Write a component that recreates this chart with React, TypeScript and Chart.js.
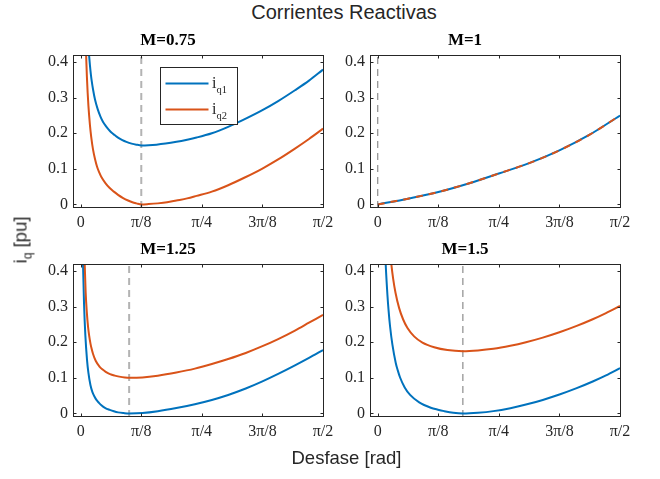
import React, { useEffect, useRef } from 'react';
import { Chart, registerables } from 'chart.js';

Chart.register(...registerables);

const PI = Math.PI;
const SERIF = '"Liberation Serif", "Times New Roman", serif';
const SANS = '"Liberation Sans", Arial, sans-serif';
const BLUE = '#0072BD';
const ORANGE = '#D95319';
const AXIS = '#262626';

// ---- axes ----
const xTicks = [0, PI / 8, PI / 4, (3 * PI) / 8, PI / 2];
const xTickLabels = ['0', 'π/8', 'π/4', '3π/8', 'π/2'];
const yTicks = [0, 0.1, 0.2, 0.3, 0.4];
const yTickLabels = ['0', '0.1', '0.2', '0.3', '0.4'];
const xMin = -0.05;
const xMax = PI / 2;
const yMin = -0.01;
const yMax = 0.42;

const subplotTitles = ['M=0.75', 'M=1', 'M=1.25', 'M=1.5'];
const optimumPhase = [PI / 8, 0, 0.314, 0.552];

// ---- M = 0.75 ----
const phaseM075a = [0.045, 0.05, 0.054, 0.06, 0.066, 0.071, 0.08, 0.093, 0.11, 0.128, 0.145, 0.162, 0.18, 0.199, 0.22, 0.242, 0.27, 0.296, 0.33, 0.361, 0.394, 0.44, 0.491, 0.55, 0.621, 0.69, 0.751, 0.85, 0.956, 1.06, 1.178, 1.28, 1.389, 1.48, 1.571];
const iq1M075 = [0.48, 0.444, 0.42, 0.39, 0.365, 0.348, 0.323, 0.294, 0.268, 0.247, 0.232, 0.221, 0.211, 0.202, 0.195, 0.188, 0.181, 0.176, 0.171, 0.168, 0.166, 0.1665, 0.168, 0.171, 0.176, 0.182, 0.188, 0.2, 0.218, 0.239, 0.265, 0.2905, 0.321, 0.348, 0.379];
const phaseM075b = [0.03, 0.035, 0.04, 0.045, 0.05, 0.054, 0.06, 0.068, 0.08, 0.093, 0.106, 0.12, 0.134, 0.16, 0.188, 0.215, 0.242, 0.275, 0.307, 0.335, 0.361, 0.394, 0.44, 0.5, 0.56, 0.62, 0.69, 0.751, 0.85, 0.956, 1.06, 1.178, 1.28, 1.389, 1.48, 1.571];
const iq2M075 = [0.49, 0.42, 0.36, 0.314, 0.277, 0.253, 0.222, 0.19, 0.154, 0.127, 0.106, 0.09, 0.077, 0.06, 0.046, 0.036, 0.027, 0.018, 0.011, 0.006, 0.003, 0.0, 0.001, 0.003, 0.006, 0.011, 0.017, 0.024, 0.036, 0.054, 0.075, 0.101, 0.1265, 0.157, 0.184, 0.213];

// ---- M = 1 ----
const phaseM1 = [0, 0.196, 0.393, 0.589, 0.785, 0.982, 1.178, 1.374, 1.571];
const iq1M1 = [0, 0.016, 0.035, 0.059, 0.087, 0.116, 0.152, 0.196, 0.25];
const iq2M1 = [0, 0.016, 0.035, 0.059, 0.087, 0.116, 0.152, 0.196, 0.25];

// ---- M = 1.25 ----
const phaseM125a = [0.012, 0.015, 0.0214, 0.03, 0.041, 0.05, 0.063, 0.076, 0.09, 0.102, 0.118, 0.134, 0.16, 0.188, 0.215, 0.242, 0.28, 0.314, 0.4, 0.5, 0.62, 0.74, 0.85, 0.956, 1.07, 1.178, 1.28, 1.389, 1.48, 1.571];
const iq1M125 = [0.5, 0.417, 0.31, 0.22, 0.15, 0.114, 0.08, 0.06, 0.047, 0.038, 0.03, 0.023, 0.015, 0.01, 0.006, 0.003, 0.001, 0.0, 0.001, 0.006, 0.015, 0.026, 0.038, 0.052, 0.07, 0.09, 0.111, 0.135, 0.156, 0.178];
const phaseM125b = [0.022, 0.026, 0.032, 0.04, 0.048, 0.055, 0.063, 0.07, 0.08, 0.097, 0.123, 0.14, 0.162, 0.19, 0.221, 0.25, 0.286, 0.314, 0.4, 0.5, 0.62, 0.74, 0.85, 0.956, 1.07, 1.178, 1.28, 1.389, 1.48, 1.571];
const iq2M125 = [0.494, 0.417, 0.341, 0.282, 0.242, 0.218, 0.197, 0.183, 0.167, 0.148, 0.131, 0.124, 0.117, 0.1105, 0.1063, 0.1035, 0.101, 0.1, 0.101, 0.106, 0.115, 0.126, 0.139, 0.153, 0.17, 0.189, 0.209, 0.233, 0.255, 0.277];

// ---- M = 1.5 ----
const phaseM15a = [0.045, 0.052, 0.063, 0.07, 0.08, 0.095, 0.117, 0.13, 0.145, 0.175, 0.21, 0.269, 0.344, 0.39, 0.431, 0.49, 0.552, 0.65, 0.75, 0.86, 0.961, 1.07, 1.178, 1.29, 1.394, 1.48, 1.571];
const iq1M15 = [0.492, 0.417, 0.333, 0.292, 0.245, 0.194, 0.142, 0.121, 0.101, 0.073, 0.052, 0.031, 0.016, 0.0105, 0.0065, 0.002, 0.0, 0.002, 0.0065, 0.0148, 0.0249, 0.038, 0.0531, 0.071, 0.0897, 0.1069, 0.1274];
const phaseM15b = [0.08, 0.089, 0.1, 0.115, 0.139, 0.165, 0.193, 0.236, 0.29, 0.366, 0.452, 0.552, 0.65, 0.75, 0.86, 0.961, 1.07, 1.178, 1.29, 1.394, 1.48, 1.571];
const iq2M15 = [0.456, 0.417, 0.379, 0.34, 0.296, 0.264, 0.24, 0.2165, 0.199, 0.186, 0.178, 0.175, 0.177, 0.1815, 0.19, 0.2, 0.213, 0.228, 0.246, 0.2647, 0.282, 0.302];

const curves = [
  { x1: phaseM075a, y1: iq1M075, x2: phaseM075b, y2: iq2M075 },
  { x1: phaseM1, y1: iq1M1, x2: phaseM1, y2: iq2M1 },
  { x1: phaseM125a, y1: iq1M125, x2: phaseM125b, y2: iq2M125 },
  { x1: phaseM15a, y1: iq1M15, x2: phaseM15b, y2: iq2M15 },
];

const zip = (xs: number[], ys: number[]) => xs.map((x, i) => ({ x, y: ys[i] }));

// layout
const PLOT_W = 250;
const PLOT_H = 153;
const Y_AXIS_W = 60;
const X_AXIS_H = 35;
const TITLE_H = 40;
const PAD_R = 20;
const plotOrigins = [
  [73, 55],
  [370, 55],
  [73, 264],
  [370, 264],
];

const boxPlugin = {
  id: 'matlabBox',
  afterDatasetsDraw(chart: any) {
    const { ctx, chartArea: a, scales } = chart;
    const l = Math.round(a.left) + 0.5;
    const r = Math.round(a.right) + 0.5;
    const t = Math.round(a.top) + 0.5;
    const b = Math.round(a.bottom) - 0.5;
    ctx.save();
    ctx.strokeStyle = AXIS;
    ctx.lineWidth = 1;
    ctx.strokeRect(l, t, r - l, b - t);
    const tl = 3;
    ctx.beginPath();
    xTicks.forEach((v) => {
      const px = Math.round(scales.x.getPixelForValue(v)) + 0.5;
      ctx.moveTo(px, b);
      ctx.lineTo(px, b - tl);
      ctx.moveTo(px, t);
      ctx.lineTo(px, t + tl);
    });
    yTicks.forEach((v) => {
      const py = Math.round(scales.y.getPixelForValue(v)) + 0.5;
      ctx.moveTo(l, py);
      ctx.lineTo(l + tl, py);
      ctx.moveTo(r, py);
      ctx.lineTo(r - tl, py);
    });
    ctx.stroke();
    ctx.restore();
  },
};

const legendPlugin = {
  id: 'matlabLegend',
  afterDraw(chart: any) {
    if (!chart.options.plugins.matlabLegend?.show) return;
    const { ctx, chartArea: a } = chart;
    const bx = Math.round(a.left + 87) + 0.5;
    const by = Math.round(a.top + 12) + 0.5;
    const bw = 77;
    const bh = 57;
    ctx.save();
    ctx.fillStyle = '#ffffff';
    ctx.fillRect(bx, by, bw, bh);
    ctx.strokeStyle = AXIS;
    ctx.lineWidth = 1;
    ctx.strokeRect(bx, by, bw, bh);
    const rows = [
      { color: BLUE, sub: 'q1', y: 28.5 },
      { color: ORANGE, sub: 'q2', y: 54.5 },
    ];
    rows.forEach((row) => {
      const ly = a.top + row.y;
      ctx.strokeStyle = row.color;
      ctx.lineWidth = 2;
      ctx.beginPath();
      ctx.moveTo(a.left + 92.5, ly);
      ctx.lineTo(a.left + 135.5, ly);
      ctx.stroke();
      ctx.fillStyle = AXIS;
      ctx.textBaseline = 'alphabetic';
      ctx.textAlign = 'left';
      ctx.font = `16px ${SERIF}`;
      ctx.fillText('i', a.left + 139, ly + 4);
      ctx.font = `10.5px ${SERIF}`;
      ctx.fillText(row.sub, a.left + 143.5, ly + 9.5);
    });
    ctx.restore();
  },
};

function Subplot({ idx }: { idx: number }) {
  const ref = useRef<HTMLCanvasElement | null>(null);
  useEffect(() => {
    const c = curves[idx];
    const isM1 = idx === 1;
    const chart = new Chart(ref.current as HTMLCanvasElement, {
      type: 'line',
      data: {
        datasets: [
          {
            data: [
              { x: optimumPhase[idx], y: yMin },
              { x: optimumPhase[idx], y: yMax },
            ],
            borderColor: idx === 0 || idx === 2 ? '#b3b3b3' : '#8c8c8c',
            borderWidth: idx === 0 || idx === 2 ? 2 : 1.2,
            borderDash: [7, 5],
            pointRadius: 0,
            tension: 0,
            order: 3,
          },
          {
            data: zip(c.x1, c.y1),
            borderColor: BLUE,
            borderWidth: 2,
            pointRadius: 0,
            cubicInterpolationMode: 'monotone',
            order: 2,
          },
          {
            data: zip(c.x2, c.y2),
            borderColor: ORANGE,
            borderWidth: 2,
            borderDash: isM1 ? [7, 6] : [],
            pointRadius: 0,
            cubicInterpolationMode: 'monotone',
            order: 1,
          },
        ],
      },
      options: {
        responsive: false,
        animation: false,
        devicePixelRatio: 1,
        events: [],
        layout: { padding: { left: 0, top: 0, right: PAD_R, bottom: 0 } },
        plugins: {
          legend: { display: false },
          tooltip: { enabled: false },
          title: {
            display: true,
            text: subplotTitles[idx],
            color: '#000',
            font: { family: SERIF, size: 17, weight: 'bold', lineHeight: 1.2 },
            padding: { top: 15.6, bottom: 4 },
          },
          matlabLegend: { show: idx === 0 },
        } as any,
        scales: {
          x: {
            type: 'linear',
            min: xMin,
            max: xMax,
            grid: { display: false, drawTicks: false, tickLength: 0 },
            border: { display: false },
            afterBuildTicks: (s: any) => {
              s.ticks = xTicks.map((v) => ({ value: v }));
            },
            afterFit: (s: any) => {
              s.height = X_AXIS_H;
            },
            ticks: {
              autoSkip: false,
              maxRotation: 0,
              color: AXIS,
              padding: 5,
              font: { family: SERIF, size: 16 },
              callback: (_v: any, i: number) => xTickLabels[i],
            },
          },
          y: {
            type: 'linear',
            min: yMin,
            max: yMax,
            grid: { display: false, drawTicks: false, tickLength: 0 },
            border: { display: false },
            afterBuildTicks: (s: any) => {
              s.ticks = yTicks.map((v) => ({ value: v }));
            },
            afterFit: (s: any) => {
              s.width = Y_AXIS_W;
            },
            ticks: {
              autoSkip: false,
              color: AXIS,
              padding: 5,
              font: { family: SERIF, size: 16 },
              callback: (_v: any, i: number) => yTickLabels[i],
            },
          },
        },
      } as any,
      plugins: [boxPlugin, legendPlugin],
    });
    return () => chart.destroy();
  }, [idx]);
  const [pl, pt] = plotOrigins[idx];
  return (
    <canvas
      ref={ref}
      width={Y_AXIS_W + PLOT_W + PAD_R}
      height={TITLE_H + PLOT_H + X_AXIS_H}
      style={{
        position: 'absolute',
        left: pl - Y_AXIS_W,
        top: pt - TITLE_H,
        width: Y_AXIS_W + PLOT_W + PAD_R,
        height: TITLE_H + PLOT_H + X_AXIS_H,
      }}
    />
  );
}

export default function App() {
  return (
    <div
      style={{
        position: 'absolute',
        left: 0,
        top: 0,
        width: 660,
        height: 479,
        background: '#ffffff',
        overflow: 'hidden',
      }}
    >
      <div
        style={{
          position: 'absolute',
          left: 344,
          top: 0.5,
          transform: 'translateX(-50%)',
          fontFamily: SANS,
          fontSize: 20,
          lineHeight: '22px',
          color: AXIS,
          whiteSpace: 'nowrap',
        }}
      >
        Corrientes Reactivas
      </div>
      {[0, 1, 2, 3].map((i) => (
        <Subplot key={i} idx={i} />
      ))}
      <div
        style={{
          position: 'absolute',
          left: 346.5,
          top: 447.5,
          transform: 'translateX(-50%)',
          fontFamily: SANS,
          fontSize: 18.5,
          lineHeight: '20px',
          color: AXIS,
          whiteSpace: 'nowrap',
        }}
      >
        Desfase [rad]
      </div>
      <div
        style={{
          position: 'absolute',
          left: 24,
          top: 240,
          transform: 'translate(-50%, -50%) rotate(-90deg)',
          fontFamily: SANS,
          fontSize: 18.5,
          lineHeight: '20px',
          color: AXIS,
          whiteSpace: 'nowrap',
        }}
      >
        i<span style={{ fontSize: 12, verticalAlign: '-5px' }}>q</span> [pu]
      </div>
    </div>
  );
}
